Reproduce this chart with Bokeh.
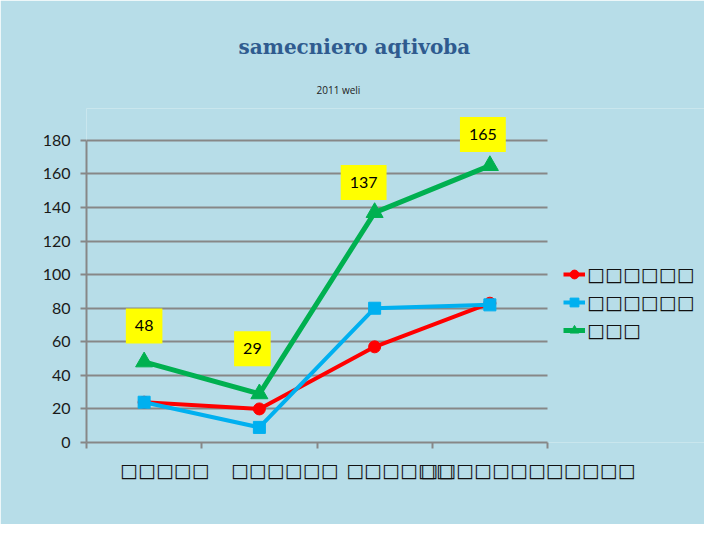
from bokeh.plotting import figure
from bokeh.models import Range1d, FixedTicker, Label, Legend, LegendItem, Title, Grid
from bokeh.embed import file_html
from bokeh.resources import INLINE

# ---- data ----
categories = ["□□□□□", "□□□□□□", "□□□□□□", "□□□□□□□□□□□□"]
series_names = ["□□□□□□", "□□□□□□", "□□□"]
red_values = [24, 20, 57, 83]
blue_values = [24, 9, 80, 82]
green_values = [48, 29, 137, 165]
y_ticks = [0, 20, 40, 60, 80, 100, 120, 140, 160, 180]
title_text = "samecniero aqtivoba"
subtitle_text = "2011 weli"

# ---- layout constants ----
BG = "#b7dde8"
GRID = "#878787"
n_cat = len(categories)
x_pos = [i + 0.5 for i in range(n_cat)]
label_pos = [0.68, 1.72, 2.72, 3.83]
label_offsets = [(0, 36), (-7, 45), (-11, 30), (-7, 31)]
FRAME_LEFT, CAT_RIGHT, FIG_W = 86, 547, 704
x_end = n_cat * (FIG_W - FRAME_LEFT) / (CAT_RIGHT - FRAME_LEFT)

p = figure(width=FIG_W, height=524, output_backend="svg", toolbar_location=None,
           x_range=Range1d(0, x_end), y_range=Range1d(0, 199),
           min_border_left=FRAME_LEFT, min_border_right=0, min_border_top=108,
           min_border_bottom=82)
p.background_fill_color = BG
p.border_fill_color = BG
p.outline_line_color = None

sub = Title(text=subtitle_text, align="left", offset=230, text_font="Open Sans",
            text_font_size="10px", text_font_style="normal", text_color="#222222")
main = Title(text=title_text, align="left", offset=152, text_font="DejaVu Serif",
             text_font_size="20px", text_font_style="bold", text_color="#2f5b8f")
if "standoff" in Title.properties():
    sub.standoff = 24
    main.standoff = 20
p.add_layout(sub, "above")
p.add_layout(main, "above")

# axes
p.yaxis.ticker = FixedTicker(ticks=y_ticks)
p.yaxis.bounds = (0, 180)
p.yaxis.axis_line_color = GRID
p.yaxis.axis_line_width = 2
p.yaxis.major_tick_line_color = GRID
p.yaxis.major_tick_line_width = 2
p.yaxis.major_tick_out = 6
p.yaxis.major_tick_in = 0
p.yaxis.minor_tick_line_color = None
p.yaxis.major_label_text_font = "Lato"
p.yaxis.major_label_text_font_size = "16px"
p.yaxis.major_label_text_color = "#1a1a1a"
p.yaxis.major_label_standoff = 10

p.xaxis.ticker = FixedTicker(ticks=label_pos, minor_ticks=list(range(n_cat + 1)))
p.xaxis.bounds = (0, n_cat)
p.xaxis.major_label_overrides = {pos: lab for pos, lab in zip(label_pos, categories)}
p.xaxis.axis_line_color = GRID
p.xaxis.axis_line_width = 2
p.xaxis.major_tick_line_color = None
p.xaxis.minor_tick_line_color = GRID
p.xaxis.minor_tick_line_width = 2
p.xaxis.minor_tick_out = 6
p.xaxis.minor_tick_in = 0
p.xaxis.major_label_text_font = "DejaVu Sans"
p.xaxis.major_label_text_font_size = "19px"
p.xaxis.major_label_text_color = "#111111"
p.xaxis.major_label_standoff = 10

p.xgrid.grid_line_color = None
if "cross_bounds" in Grid.properties():
    p.ygrid.cross_bounds = (0, n_cat)
    p.ygrid.grid_line_color = GRID
    p.ygrid.grid_line_width = 2
else:
    p.ygrid.grid_line_color = None
    p.segment(x0=[0] * len(y_ticks), x1=[n_cat] * len(y_ticks), y0=y_ticks, y1=y_ticks,
              line_color=GRID, line_width=2)

# series
r_line = p.line(x_pos, red_values, line_color="#ff0000", line_width=4)
r_mark = p.scatter(x_pos, red_values, marker="circle", size=12, fill_color="#ff0000",
                   line_color="#ff0000")
b_line = p.line(x_pos, blue_values, line_color="#00b0f0", line_width=4)
b_mark = p.scatter(x_pos, blue_values, marker="square", size=12, fill_color="#00b0f0",
                   line_color="#00b0f0")
g_line = p.line(x_pos, green_values, line_color="#00b050", line_width=5)
g_mark = p.scatter(x_pos, green_values, marker="triangle", size=17, fill_color="#00b050",
                   line_color="#00b050")

# data labels on green series
for xv, yv, (dx, dy) in zip(x_pos, green_values, label_offsets):
    p.add_layout(Label(x=xv, y=yv, x_offset=dx, y_offset=dy, text=str(yv),
                       text_align="center", text_baseline="middle",
                       text_font="Lato", text_font_size="16px", text_color="#000000",
                       background_fill_color="#ffff00", padding=(9, 12)))

legend = Legend(items=[
    LegendItem(label=series_names[0], renderers=[r_line, r_mark]),
    LegendItem(label=series_names[1], renderers=[b_line, b_mark]),
    LegendItem(label=series_names[2], renderers=[g_line, g_mark]),
], location=(477, 101))
legend.background_fill_alpha = 0
legend.border_line_color = None
legend.label_text_font = "DejaVu Sans"
legend.label_text_font_size = "19px"
legend.label_text_color = "#111111"
legend.glyph_width = 22
legend.glyph_height = 22
legend.label_height = 22
legend.spacing = 6
legend.padding = 0
legend.margin = 0
legend.label_standoff = 2
p.add_layout(legend, "center")

open("out.html", "w").write(file_html(p, INLINE))
